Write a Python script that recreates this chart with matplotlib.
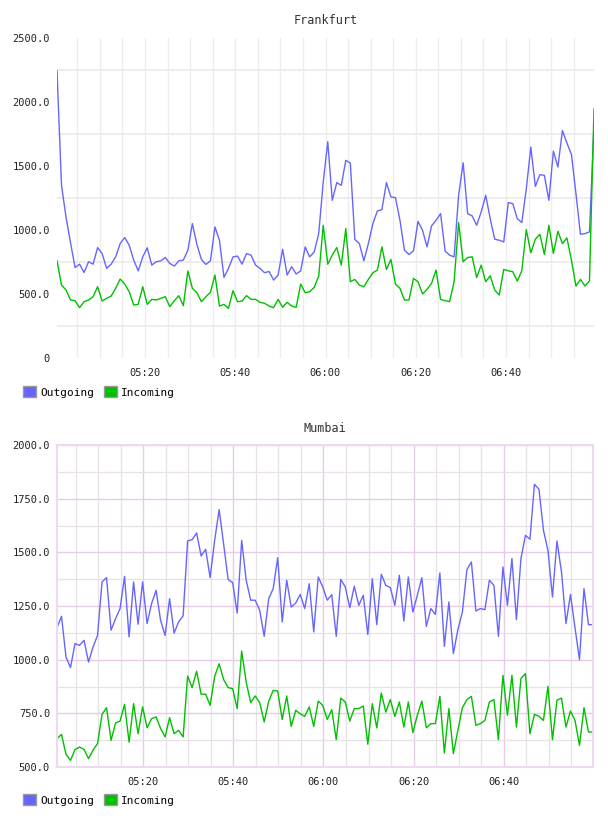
import numpy as np
import matplotlib
matplotlib.use('Agg')
import matplotlib.pyplot as plt
import matplotlib.dates as mdates
from matplotlib.patches import Patch
from matplotlib.ticker import MultipleLocator, FixedLocator, FuncFormatter

# one sample per minute
fra_start = '2000-01-01T05:00:30'
mum_start = '2000-01-01T05:00:50'

fra_out = [2245, 1349, 1100, 900, 707, 733, 668, 752, 733, 863,
           816, 700, 733, 790, 894, 941, 881, 765, 681, 790,
           861, 726, 752, 759, 785, 739, 718, 759, 765, 842,
           1050, 887, 770, 731, 759, 1024, 920, 630, 700, 790,
           796, 733, 816, 803, 726, 700, 666, 676, 609, 648,
           850, 648, 713, 656, 681, 868, 790, 829, 972, 1375,
           1690, 1232, 1370, 1349, 1544, 1523, 926, 894, 759, 894,
           1050, 1149, 1159, 1370, 1258, 1253, 1076, 842, 809, 837,
           1068, 998, 868, 1032, 1076, 1128, 837, 803, 790, 1271,
           1525, 1128, 1110, 1037, 1141, 1271, 1089, 928, 920, 907,
           1214, 1206, 1089, 1058, 1323, 1648, 1341, 1432, 1427, 1232,
           1616, 1492, 1777, 1679, 1590, 1284, 967, 972, 985, 1811]

fra_in = [760, 570, 531, 453, 448, 393, 440, 453, 479, 557,
          445, 466, 484, 544, 617, 578, 518, 414, 419, 557,
          419, 458, 453, 466, 479, 401, 448, 487, 409, 680,
          544, 510, 440, 479, 513, 648, 406, 419, 388, 526,
          440, 445, 487, 458, 458, 435, 427, 406, 393, 458,
          396, 435, 406, 396, 578, 510, 518, 552, 640, 1037,
          733, 804, 863, 726, 1011, 596, 614, 570, 557, 614,
          666, 687, 868, 692, 770, 578, 544, 453, 453, 622,
          596, 500, 536, 583, 687, 458, 448, 440, 596, 1058,
          752, 785, 790, 629, 726, 596, 642, 531, 492, 692,
          681, 674, 601, 681, 1003, 822, 928, 967, 809, 1037,
          816, 990, 894, 938, 765, 562, 614, 562, 603, 1946]

mum_out = [1149, 1202, 1012, 963, 1075, 1067, 1090, 989, 1059, 1113,
           1362, 1382, 1137, 1191, 1238, 1388, 1106, 1362, 1165, 1362,
           1168, 1261, 1323, 1183, 1113, 1284, 1124, 1176, 1204, 1553,
           1559, 1590, 1483, 1514, 1382, 1556, 1699, 1537, 1373, 1359,
           1217, 1556, 1370, 1277, 1277, 1230, 1109, 1284, 1331, 1475,
           1176, 1370, 1245, 1264, 1304, 1238, 1354, 1129, 1385, 1339,
           1277, 1303, 1109, 1374, 1339, 1242, 1342, 1253, 1300, 1117,
           1377, 1163, 1398, 1346, 1336, 1253, 1393, 1180, 1385, 1222,
           1300, 1382, 1155, 1238, 1211, 1404, 1062, 1269, 1028, 1140,
           1222, 1419, 1455, 1227, 1238, 1233, 1370, 1346, 1109, 1432,
           1253, 1471, 1186, 1471, 1579, 1561, 1817, 1794, 1603, 1509,
           1292, 1553, 1409, 1168, 1304, 1149, 1000, 1331, 1163, 1163]

mum_in = [632, 652, 559, 531, 581, 593, 582, 539, 578, 609,
          745, 776, 624, 705, 714, 792, 616, 795, 655, 780,
          683, 725, 733, 679, 640, 730, 655, 671, 640, 924,
          870, 946, 839, 839, 787, 922, 981, 907, 870, 865,
          772, 1040, 896, 800, 831, 800, 710, 806, 857, 854,
          721, 831, 689, 764, 748, 736, 780, 689, 807, 787,
          721, 767, 627, 821, 803, 714, 772, 772, 784, 606,
          795, 682, 845, 756, 814, 736, 803, 686, 803, 660,
          741, 807, 683, 702, 702, 829, 565, 772, 562, 671,
          776, 814, 829, 694, 702, 717, 803, 814, 627, 927,
          741, 927, 686, 912, 935, 655, 745, 736, 717, 876,
          627, 811, 821, 686, 761, 717, 601, 776, 663, 663]

series_names = ['Outgoing', 'Incoming']
OUT_COL = '#6666ff'
IN_COL = '#00c000'

plt.rcParams['font.family'] = ['DejaVu Sans Mono']


def times(start, n):
    return (np.datetime64(start) + np.arange(n) * np.timedelta64(1, 'm')).astype('datetime64[s]').astype(object)


def fmt_y(v, pos):
    return '0' if v == 0 else '%.1f' % v


def add_legend(ax, fig, y):
    handles = [Patch(facecolor=OUT_COL, edgecolor='#999999', lw=1),
               Patch(facecolor=IN_COL, edgecolor='#999999', lw=1)]
    ax.legend(handles, series_names, loc='center left', bbox_to_anchor=(23 / 608, y),
              bbox_transform=fig.transFigure, ncol=2, frameon=False, fontsize=8,
              handlelength=1.15, handleheight=1.1, handletextpad=0.4,
              columnspacing=0.9, borderpad=0, borderaxespad=0)


def setup_time_axis(ax, t):
    ax.set_xlim(t[0], t[-1])
    ax.xaxis.set_major_locator(mdates.MinuteLocator(byminute=[0, 20, 40]))
    ax.xaxis.set_minor_locator(mdates.MinuteLocator(byminute=range(0, 60, 5)))
    ax.xaxis.set_major_formatter(mdates.DateFormatter('%H:%M'))
    ax.tick_params(which='both', length=0, labelsize=7.5, colors='#222222')
    ax.tick_params(axis='x', pad=7)
    ax.tick_params(axis='y', pad=5)
    ax.yaxis.set_major_formatter(FuncFormatter(fmt_y))
    ax.set_axisbelow(True)


fig = plt.figure(figsize=(6.08, 8.16), dpi=100)

# Frankfurt
t1 = times(fra_start, len(fra_out))
ax1 = fig.add_axes([57 / 608, 1 - 358 / 816, 537 / 608, 320 / 816])
ax1.plot(t1, fra_out, color=OUT_COL, lw=1)
ax1.plot(t1, fra_in, color=IN_COL, lw=1)
ax1.set_ylim(0, 2500)
ax1.yaxis.set_major_locator(MultipleLocator(500))
ax1.yaxis.set_minor_locator(FixedLocator([250, 750, 1250, 1750, 2250]))
setup_time_axis(ax1, t1)
ax1.grid(which='both', axis='x', color='#ededed', lw=0.9)
ax1.grid(which='minor', axis='y', color='#e8e8e8', lw=1.1)
for s in ax1.spines.values():
    s.set_visible(False)
ax1.set_title('Frankfurt', fontsize=8.5, pad=10, color='#333333')
add_legend(ax1, fig, 1 - 392 / 816)

# Mumbai
t2 = times(mum_start, len(mum_out))
ax2 = fig.add_axes([57 / 608, 1 - 767 / 816, 536 / 608, 322 / 816])
ax2.plot(t2, mum_out, color=OUT_COL, lw=1)
ax2.plot(t2, mum_in, color=IN_COL, lw=1)
ax2.set_ylim(500, 2000)
ax2.yaxis.set_major_locator(MultipleLocator(250))
ax2.yaxis.set_minor_locator(MultipleLocator(125))
setup_time_axis(ax2, t2)
ax2.grid(which='major', color='#e6cce6', lw=1)
ax2.grid(which='minor', color='#e8e2e8', lw=0.9)
for s in ax2.spines.values():
    s.set_color('#eedaee')
    s.set_linewidth(1.5)
ax2.set_title('Mumbai', fontsize=8.5, pad=9, color='#333333')
add_legend(ax2, fig, 1 - 800 / 816)

fig.savefig('out.png', dpi=100)
